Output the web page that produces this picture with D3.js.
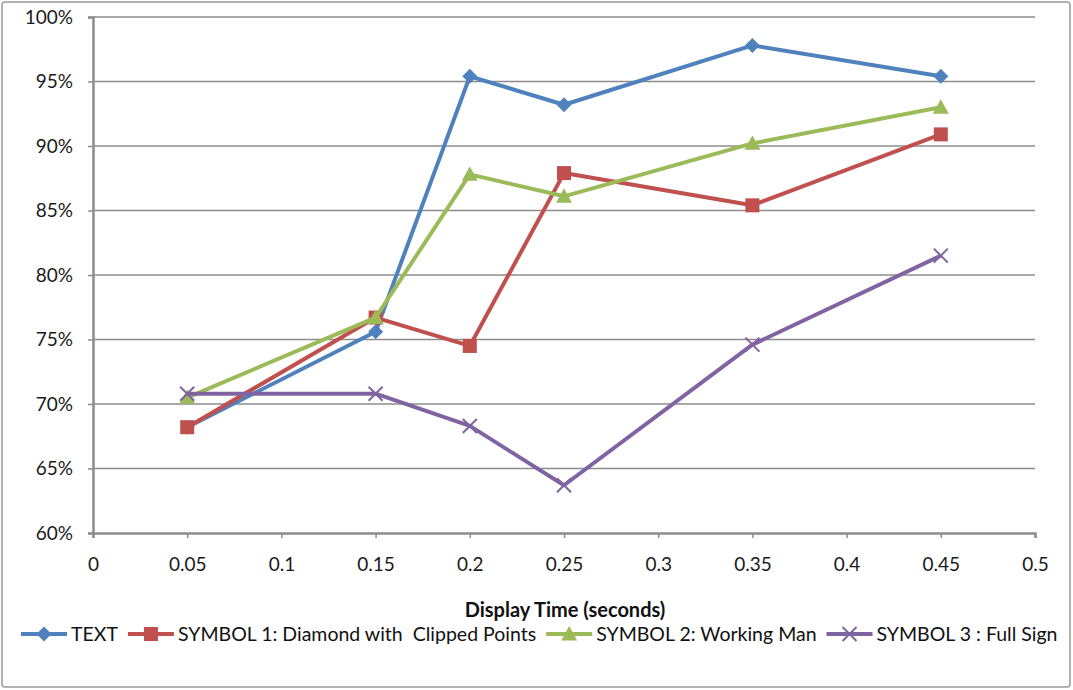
<!DOCTYPE html>
<html>
<head>
<meta charset="utf-8">
<script src="https://cdn.jsdelivr.net/npm/d3@7/dist/d3.min.js"></script>
<style>
  html, body { margin: 0; padding: 0; background: #fff; }
  svg { display: block; font-family: Lato, "Open Sans", sans-serif; }
</style>
</head>
<body>
<svg id="chart" width="1073" height="690"></svg>
<script>
// Display times (seconds) at which recognition was measured
const displayTimes = [0.05, 0.15, 0.2, 0.25, 0.35, 0.45];

// Share of correct recognition per sign type (%)
const textValues    = [68.2, 75.6, 95.4, 93.2, 97.8, 95.4];
const symbol1Values = [68.2, 76.7, 74.5, 87.9, 85.4, 90.9];
const symbol2Values = [70.5, 76.7, 87.8, 86.1, 90.2, 93.0];
const symbol3Values = [70.8, 70.8, 68.3, 63.7, 74.6, 81.5];

const seriesNames = [
  "TEXT",
  "SYMBOL 1: Diamond with  Clipped Points",
  "SYMBOL 2: Working Man",
  "SYMBOL 3 : Full Sign"
];

const xTicks = [0, 0.05, 0.1, 0.15, 0.2, 0.25, 0.3, 0.35, 0.4, 0.45, 0.5];
const yTicks = [60, 65, 70, 75, 80, 85, 90, 95, 100];
const xTitle = "Display Time (seconds)";

const colors = ["#4F81BD", "#C0504D", "#9BBB59", "#8064A2"];
const markers = ["diamond", "square", "triangle", "x"];
const seriesValues = [textValues, symbol1Values, symbol2Values, symbol3Values];

const series = seriesNames.map((name, i) => ({
  name,
  color: colors[i],
  marker: markers[i],
  points: displayTimes.map((t, j) => ({ t, v: seriesValues[i][j] }))
}));

const svg = d3.select("#chart");
const W = 1073, H = 690;

// Outer chart frame
svg.append("rect")
  .attr("x", 2).attr("y", 2)
  .attr("width", W - 5).attr("height", H - 5)
  .attr("rx", 3)
  .attr("fill", "#fff")
  .attr("stroke", "#9a9a9a")
  .attr("stroke-width", 1.5);

const plot = { left: 93, right: 1035, top: 17, bottom: 533 };

const x = d3.scaleLinear().domain([0, 0.5]).range([plot.left, plot.right]);
const y = d3.scaleLinear().domain([60, 100]).range([plot.bottom, plot.top]);

// Horizontal gridlines
svg.append("g")
  .selectAll("line")
  .data(yTicks.filter(d => d > 60))
  .join("line")
  .attr("x1", plot.left).attr("x2", plot.right)
  .attr("y1", d => y(d)).attr("y2", d => y(d))
  .attr("stroke", "#8c8c8c")
  .attr("stroke-width", 1.5);

// Y axis
const yAxis = d3.axisLeft(y)
  .tickValues(yTicks)
  .tickFormat(d => d + "%")
  .tickSize(5)
  .tickPadding(15);
const gy = svg.append("g").attr("transform", `translate(${plot.left},0)`).call(yAxis);
gy.select(".domain").attr("stroke", "#8c8c8c").attr("stroke-width", 2.5);
gy.selectAll(".tick line").attr("stroke", "#8c8c8c").attr("stroke-width", 1.5);
gy.selectAll(".tick text")
  .attr("fill", "#1a1a1a")
  .style("font-size", "19px")
  .style("font-family", "Lato, sans-serif");

// X axis
const xAxis = d3.axisBottom(x)
  .tickValues(xTicks)
  .tickFormat(d => String(d))
  .tickSize(5)
  .tickPadding(20);
const gx = svg.append("g").attr("transform", `translate(0,${plot.bottom})`).call(xAxis);
gx.select(".domain").attr("stroke", "#8c8c8c").attr("stroke-width", 2.5);
gx.selectAll(".tick line").attr("stroke", "#8c8c8c").attr("stroke-width", 1.5);
gx.selectAll(".tick text")
  .attr("fill", "#1a1a1a")
  .style("font-size", "19px")
  .style("font-family", "Lato, sans-serif");

// X axis title
svg.append("text")
  .attr("x", 565).attr("y", 617)
  .attr("text-anchor", "middle")
  .attr("fill", "#111")
  .style("font-size", "20px")
  .style("font-weight", "bold")
  .text(xTitle);

// Marker drawing helper
function drawMarker(g, type, color, cx, cy) {
  if (type === "diamond") {
    const r = 7.5;
    g.append("path")
      .attr("d", `M${cx},${cy - r}L${cx + r},${cy}L${cx},${cy + r}L${cx - r},${cy}Z`)
      .attr("fill", color);
  } else if (type === "square") {
    const h = 7;
    g.append("rect")
      .attr("x", cx - h).attr("y", cy - h)
      .attr("width", 2 * h).attr("height", 2 * h)
      .attr("fill", color);
  } else if (type === "triangle") {
    const h = 8;
    g.append("path")
      .attr("d", `M${cx},${cy - h}L${cx + h},${cy + h * 0.8}L${cx - h},${cy + h * 0.8}Z`)
      .attr("fill", color);
  } else if (type === "x") {
    const h = 7;
    g.append("path")
      .attr("d", `M${cx - h},${cy - h}L${cx + h},${cy + h}M${cx - h},${cy + h}L${cx + h},${cy - h}`)
      .attr("stroke", color)
      .attr("stroke-width", 2);
  }
}

// Series lines and markers
const line = d3.line().x(d => x(d.t)).y(d => y(d.v));
series.forEach(s => {
  const g = svg.append("g");
  g.append("path")
    .datum(s.points)
    .attr("d", line)
    .attr("fill", "none")
    .attr("stroke", s.color)
    .attr("stroke-width", 4)
    .attr("stroke-linejoin", "round");
  s.points.forEach(p => drawMarker(g, s.marker, s.color, x(p.t), y(p.v)));
});

// Legend laid out left to right below the axis title
const legend = svg.append("g");
const legendY = 634;
const swatchLen = 46, swatchGap = 4, itemGap = 10;
let lx = 21;
series.forEach(s => {
  const item = legend.append("g");
  item.append("line")
    .attr("x1", lx).attr("x2", lx + swatchLen)
    .attr("y1", legendY).attr("y2", legendY)
    .attr("stroke", s.color)
    .attr("stroke-width", 4);
  drawMarker(item, s.marker, s.color, lx + swatchLen / 2, legendY);
  const t = item.append("text")
    .attr("x", lx + swatchLen + swatchGap).attr("y", legendY + 7)
    .attr("fill", "#111")
    .style("font-size", "19.5px")
    .style("white-space", "pre")
    .attr("xml:space", "preserve")
    .text(s.name);
  lx += swatchLen + swatchGap + t.node().getComputedTextLength() + itemGap;
});
</script>
</body>
</html>
